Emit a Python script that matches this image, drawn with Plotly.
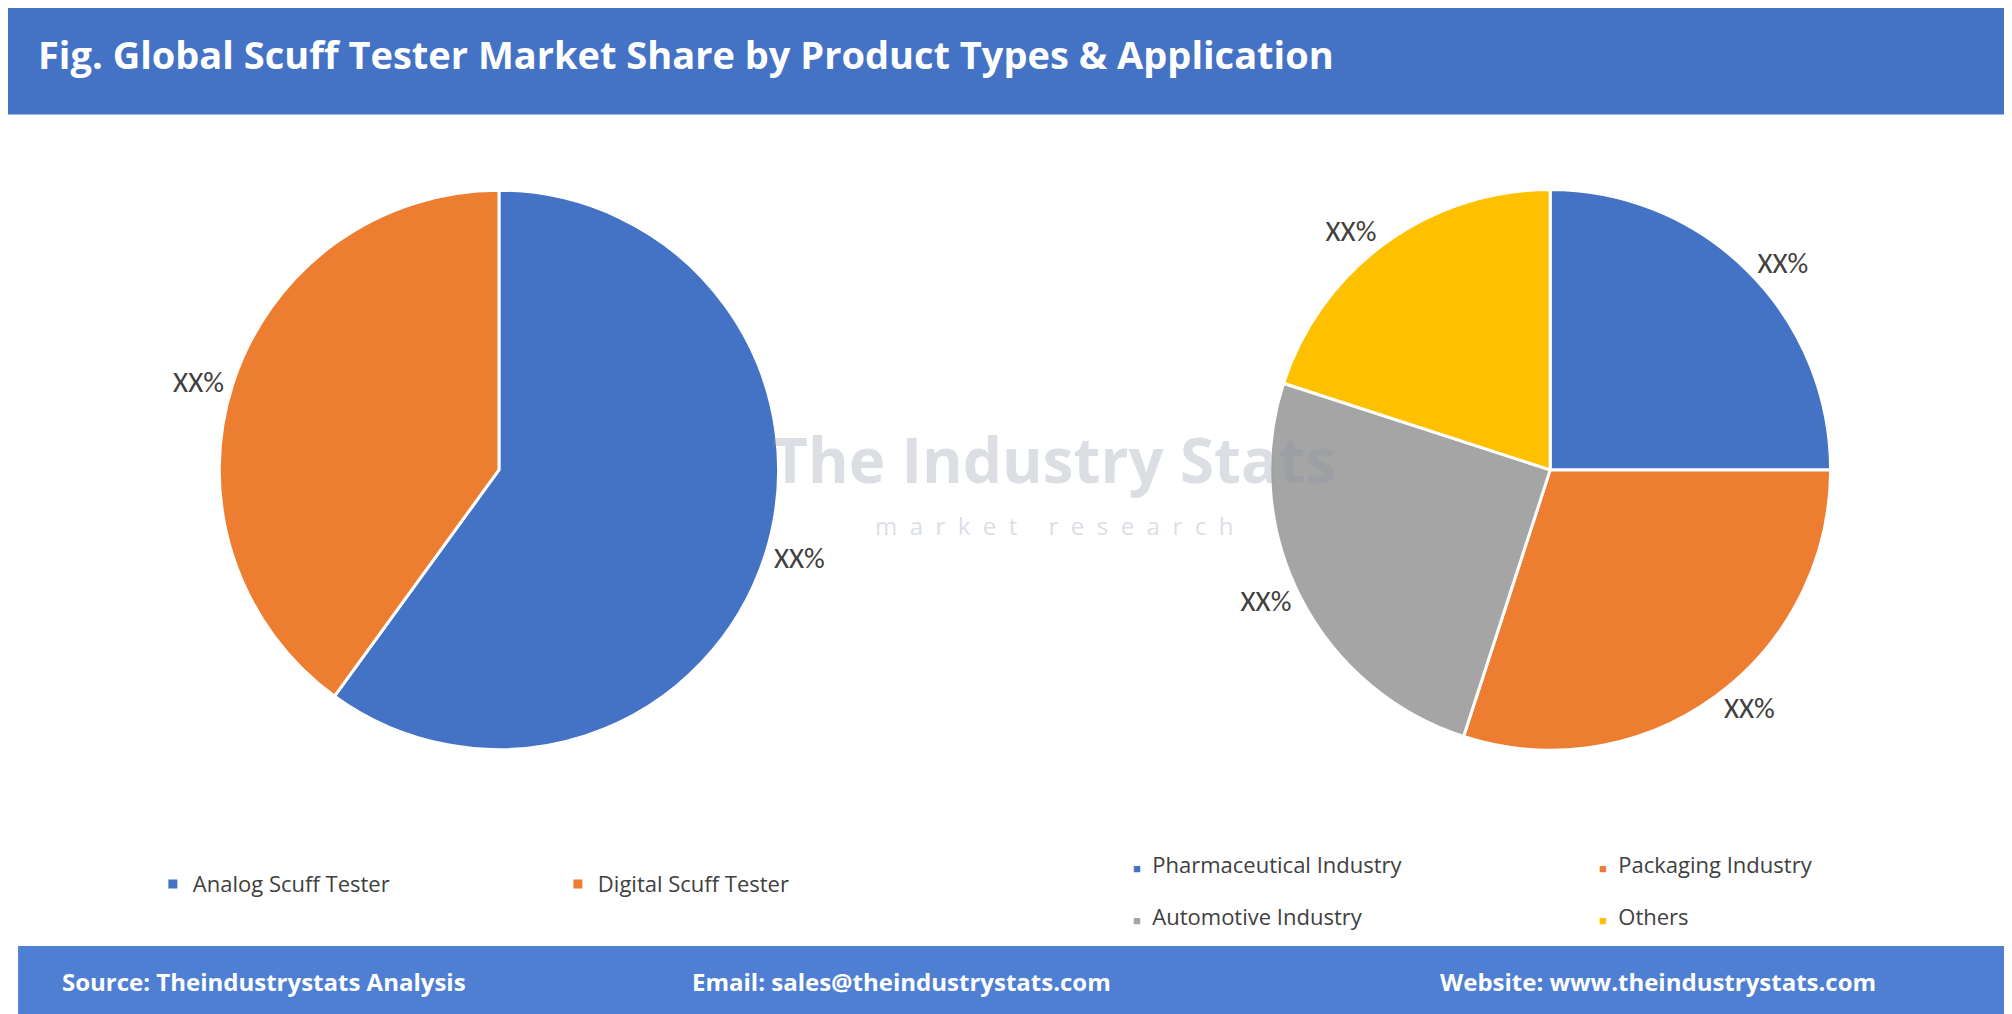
import plotly.graph_objects as go

# product types (left pie)
type_labels = ["Analog Scuff Tester", "Digital Scuff Tester"]
type_values = [60, 40]
type_colors = ["#4472C4", "#ED7D31"]

# applications (right pie)
app_labels = ["Pharmaceutical Industry", "Packaging Industry", "Automotive Industry", "Others"]
app_values = [25, 30, 25, 20]
app_colors = ["#4472C4", "#ED7D31", "#A5A5A5", "#FFC000"]

title = "Fig. Global Scuff Tester Market Share by Product Types & Application"
footer = ["Source: Theindustrystats Analysis",
          "Email: sales@theindustrystats.com",
          "Website: www.theindustrystats.com"]
footer_x = [0.127, 0.444, 0.82]

fig = go.Figure()
fig.add_trace(go.Pie(
    labels=type_labels, values=type_values, sort=False, direction="clockwise",
    marker=dict(colors=type_colors, line=dict(color="white", width=3)),
    texttemplate="XX%", textposition="outside",
    textfont=dict(size=29, color="#404040", family="Calibri, Liberation Sans, sans-serif"),
    domain=dict(x=[0.105, 0.383], y=[0.268, 0.821]),
    legend="legend", hoverinfo="label+percent"))
fig.add_trace(go.Pie(
    labels=app_labels, values=app_values, sort=False, direction="clockwise",
    marker=dict(colors=app_colors, line=dict(color="white", width=3)),
    texttemplate="XX%", textposition="outside",
    textfont=dict(size=29, color="#404040", family="Calibri, Liberation Sans, sans-serif"),
    domain=dict(x=[0.626, 0.907], y=[0.268, 0.821]),
    showlegend=False, hoverinfo="label+percent"))

legend_font = dict(size=22, color="#404040", family="Open Sans, sans-serif")
fig.update_layout(
    width=2012, height=1014,
    margin=dict(l=0, r=0, t=0, b=0, autoexpand=False),
    paper_bgcolor="white", plot_bgcolor="white",
    legend=dict(orientation="h", xref="container", yref="container",
                x=0.072, y=0.136, xanchor="left", yanchor="middle",
                font=legend_font, entrywidth=360, entrywidthmode="pixels"),
    shapes=[
        dict(type="rect", xref="paper", yref="paper", x0=0, x1=1, y0=0.895, y1=1,
             fillcolor="#4472C4", line=dict(width=0), layer="below"),
        dict(type="rect", xref="paper", yref="paper", x0=0.005, x1=0.995, y0=0.004, y1=0.075,
             fillcolor="#4F7FD3", line=dict(width=0), layer="below"),
    ],
)

# right-hand legend laid out 2 x 2 as in the reference
for i, (lab, col) in enumerate(zip(app_labels, app_colors)):
    r, c = divmod(i, 2)
    fig.add_annotation(
        text=f"<span style='color:{col};font-size:13px'>■</span>  {lab}",
        xref="paper", yref="paper", x=0.558 + c * 0.232, y=0.156 - r * 0.051,
        xanchor="left", yanchor="middle", showarrow=False, font=legend_font)

fig.add_annotation(text=title, xref="paper", yref="paper", x=0.014, y=0.955,
                   xanchor="left", yanchor="middle", showarrow=False,
                   font=dict(size=38, color="white", family="Open Sans, sans-serif", weight="bold"))
for txt, fx in zip(footer, footer_x):
    fig.add_annotation(text=txt, xref="paper", yref="paper", x=fx, y=0.04,
                       xanchor="center", yanchor="middle", showarrow=False,
                       font=dict(size=24, color="white", family="Open Sans, sans-serif", weight="bold"))

# faint watermark
fig.add_annotation(text="The Industry Stats", xref="paper", yref="paper", x=0.52, y=0.555,
                   showarrow=False, opacity=0.3,
                   font=dict(size=62, color="#8A97A8", family="Open Sans, sans-serif", weight="bold"))
fig.add_annotation(text="m  a  r  k  e  t     r  e  s  e  a  r  c  h", xref="paper", yref="paper",
                   x=0.52, y=0.49, showarrow=False, opacity=0.3,
                   font=dict(size=24, color="#8A97A8", family="Open Sans, sans-serif"))

fig.write_html("out.html")
